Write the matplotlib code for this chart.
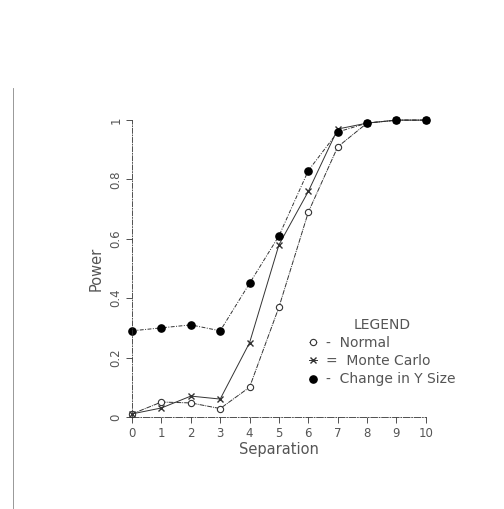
import matplotlib

matplotlib.use("Agg")
import matplotlib.pyplot as plt
from matplotlib.lines import Line2D

# Values
separation = [0, 1, 2, 3, 4, 5, 6, 7, 8, 9, 10]
power_normal = [0.01, 0.05, 0.047, 0.028, 0.10, 0.37, 0.69, 0.91, 0.99, 1.0, 1.0]
power_monte_carlo = [0.01, 0.03, 0.07, 0.06, 0.25, 0.58, 0.76, 0.97, 0.99, 1.0, 1.0]
power_y_size = [0.29, 0.30, 0.31, 0.29, 0.45, 0.61, 0.83, 0.96, 0.99, 1.0, 1.0]

y_ticks = [0, 0.2, 0.4, 0.6, 0.8, 1.0]
y_tick_labels = ["0", "0.2", "0.4", "0.6", "0.8", "1"]
x_ticks = separation

INK = "#333333"
TEXT = "#555555"
FONT = "DejaVu Sans"

fig = plt.figure(figsize=(5.04, 5.09), dpi=100)
ax = fig.add_axes([0.262, 0.181, 0.583, 0.583])

ax.plot(
    separation, power_normal,
    color=INK, linewidth=0.7, linestyle=(0, (5, 1, 1, 1)),
    marker="o", markersize=4.5, markerfacecolor="white", markeredgecolor=INK,
    markeredgewidth=0.8, clip_on=False, label="-  Normal",
)
ax.plot(
    separation, power_monte_carlo,
    color=INK, linewidth=0.7, linestyle="-",
    marker="x", markersize=4.5, markeredgewidth=1.0, clip_on=False,
    label="=  Monte Carlo",
)
ax.plot(
    separation, power_y_size,
    color=INK, linewidth=0.7, linestyle=(0, (4, 1.5, 1, 1.5)),
    marker="o", markersize=5.2, markerfacecolor="black", markeredgecolor="black",
    clip_on=False, label="-  Change in Y Size",
)

ax.set_xlim(0, 10)
ax.set_ylim(0, 1.0)
ax.set_xticks(x_ticks)
ax.set_xticklabels([str(v) for v in x_ticks], fontsize=8.5, color=TEXT, family=FONT)
ax.set_yticks(y_ticks)
ax.set_yticklabels(y_tick_labels, fontsize=8.5, color=TEXT, family=FONT,
                   rotation=90, va="center")
ax.tick_params(direction="out", length=4, width=0.6, color=INK, pad=3)

for side in ("top", "right"):
    ax.spines[side].set_visible(False)
ax.spines["left"].set_linestyle((0, (6, 2, 1, 2)))
ax.spines["left"].set_linewidth(0.6)
ax.spines["left"].set_color(INK)
ax.spines["bottom"].set_linestyle((0, (8, 2, 1, 2)))
ax.spines["bottom"].set_linewidth(0.6)
ax.spines["bottom"].set_color(INK)

ax.set_xlabel("Separation", fontsize=10.5, color=TEXT, family=FONT, labelpad=2)
ax.set_ylabel("Power", fontsize=10.5, color=TEXT, family=FONT, labelpad=4)

leg = ax.legend(
    loc="upper left",
    bbox_to_anchor=(309 / 504, 1 - 318 / 509),
    bbox_transform=fig.transFigure,
    frameon=False,
    title="LEGEND",
    handlelength=0.6,
    handletextpad=0.6,
    labelspacing=0.3,
    borderpad=0,
    borderaxespad=0,
    prop={"family": FONT, "size": 10},
    title_fontproperties={"family": FONT, "size": 10},
)
for t in leg.get_texts():
    t.set_color(TEXT)
leg.get_title().set_color(TEXT)

# scan edge line on the left of the page
fig.add_artist(Line2D([13 / 504, 13 / 504], [1 - 88 / 509, 0.0],
                      color="#888888", linewidth=0.6))

fig.savefig("out.png", dpi=100)
